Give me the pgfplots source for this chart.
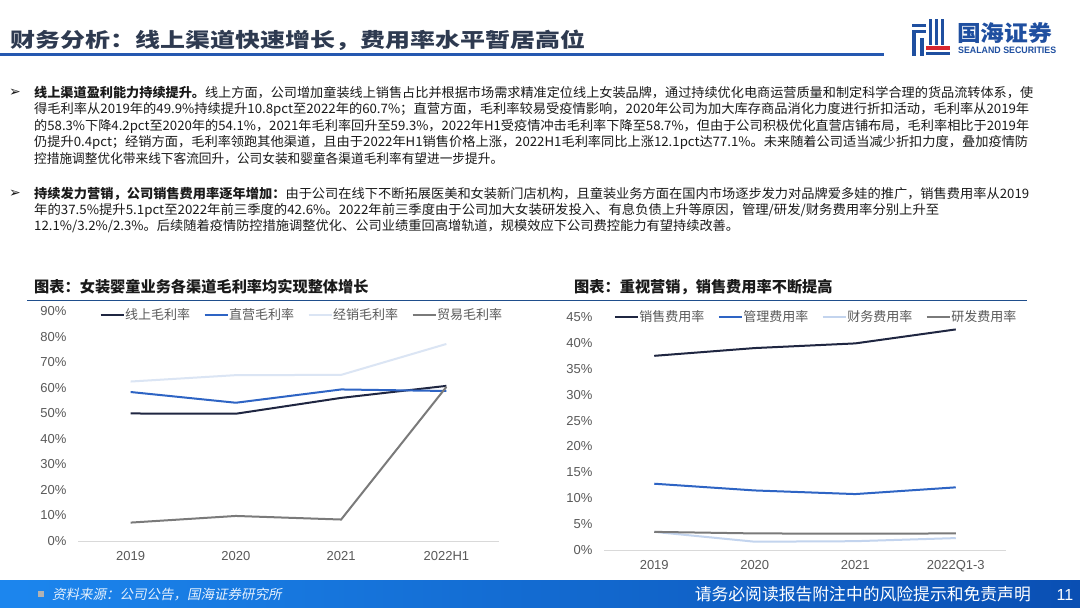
\documentclass[border=0pt]{standalone}
\usepackage{fontspec}
\usepackage{graphicx}
\usepackage{pgfplots}
\pgfplotsset{compat=1.18}
\setmainfont{Noto Sans CJK SC}
\newfontfamily\sym{DejaVu Sans}
\newfontfamily\latin{Liberation Sans}
\newfontfamily\cjkit[FakeSlant=0.2]{Noto Sans CJK SC}
\definecolor{titlecol}{HTML}{2E3A50}
\definecolor{rulecol}{HTML}{2558B0}
\definecolor{chartrule}{HTML}{1F4E8C}
\definecolor{bodycol}{HTML}{1A1A1A}
\definecolor{tickgray}{HTML}{595959}
\definecolor{axisgray}{HTML}{D9D9D9}
\definecolor{cnavy}{HTML}{1F2641}
\definecolor{cblue}{HTML}{2E64C4}
\definecolor{clightL}{HTML}{DBE5F4}
\definecolor{clightR}{HTML}{C3D4EE}
\definecolor{cgray}{HTML}{7A7A7A}
\definecolor{logoblue}{HTML}{1F4FA0}
\definecolor{logored}{HTML}{D7262E}
\definecolor{footL}{HTML}{1C86EE}
\definecolor{footR}{HTML}{0A4FB3}

\pgfplotstableread{
x online direct dealer trade
0 49.9 58.3 62.4 7.2
1 49.8 54.1 64.9 9.8
2 56.0 59.3 65.0 8.4
3 60.7 58.7 77.1 60.3
}\leftdata
\pgfplotstableread{
x sales admin fin rd
0 37.5 12.8 3.5 3.5
1 39.0 11.5 1.6 3.2
2 39.9 10.8 1.7 3.15
3 42.6 12.1 2.3 3.2
}\rightdata

\pgfplotsset{myaxis/.style={
  scale only axis,
  axis x line*=bottom, axis y line*=left,
  y axis line style={draw=none},
  x axis line style={draw=axisgray, line width=0.8pt, -},
  major tick length=0pt,
  xmin=-0.5, xmax=3.5, xtick={0,1,2,3}, ymin=0,
  tick label style={font=\latin\fontsize{13}{13}\selectfont, text=tickgray},
  xticklabel style={yshift=-7pt},
  yticklabel style={xshift=-8pt},
  every axis plot/.append style={line width=2pt, no marks},
  legend style={draw=none, fill=none, legend columns=4,
    font=\fontsize{13}{13}\selectfont, text=tickgray,
    nodes={inner sep=0.5pt},
    /tikz/every even column/.append style={column sep=13pt}},
  legend image code/.code={\draw[##1] (0pt,0pt) -- (23pt,0pt);},
  clip=false,
}}

\newcommand{\bline}[2]{\resizebox{#1pt}{\height}{#2}}

\begin{document}
\begin{tikzpicture}[x=1pt,y=1pt]
\useasboundingbox (0,0) rectangle (1080,608);
\fill[white] (0,0) rectangle (1080,608);

% Title
\node[anchor=west, inner sep=0, text=titlecol] at (10,568)
  {\scalebox{1.25}[1]{\fontsize{20}{20}\selectfont\bfseries 财务分析：线上渠道快速增长，费用率水平暂居高位}};
\draw[rulecol, line width=3pt] (0,553) -- (884,553);

% Logo icon
\fill[logoblue] (912,584) rectangle (926,581);
\fill[logoblue] (912,578) rectangle (926,575);
\fill[logoblue] (912,575) rectangle (916,552);
\fill[logoblue] (920,570) rectangle (924,552);
\fill[logoblue] (929,589) rectangle (932,563);
\fill[logoblue] (935,589) rectangle (938,563);
\fill[logoblue] (941,589) rectangle (944,563);
\fill[logored] (926,562) rectangle (950,558);
\fill[logoblue] (926,556) rectangle (950,553);
\node[anchor=west, inner sep=0, text=logoblue] at (957,575)
  {\scalebox{1.08}[1]{\fontsize{22}{22}\selectfont\bfseries 国海证券}};
\node[anchor=west, inner sep=0, text=logoblue] at (958,558)
  {\resizebox{98pt}{6.5pt}{\latin\bfseries SEALAND SECURITIES}};

% Bullets
\node[text=bodycol, inner sep=0] at (15,515) {\sym\fontsize{14}{14}\selectfont ➢};
\node[text=bodycol, inner sep=0] at (15,414.5) {\sym\fontsize{14}{14}\selectfont ➢};

% Body text
\begin{scope}[every node/.style={anchor=west, inner sep=0, text=bodycol, font=\fontsize{13}{16}\selectfont}]
\node at (34,515) {\bline{999}{\textbf{线上渠道盈利能力持续提升。}线上方面，公司增加童装线上销售占比并根据市场需求精准定位线上女装品牌，通过持续优化电商运营质量和制定科学合理的货品流转体系，使}};
\node at (34,498.5) {\bline{995}{得毛利率从2019年的49.9\%持续提升10.8pct至2022年的60.7\%；直营方面，毛利率较易受疫情影响，2020年公司为加大库存商品消化力度进行折扣活动，毛利率从2019年}};
\node at (34,482) {\bline{995}{的58.3\%下降4.2pct至2020年的54.1\%，2021年毛利率回升至59.3\%，2022年H1受疫情冲击毛利率下降至58.7\%，但由于公司积极优化直营店铺布局，毛利率相比于2019年}};
\node at (34,465.5) {\bline{994}{仍提升0.4pct；经销方面，毛利率领跑其他渠道，且由于2022年H1销售价格上涨，2022H1毛利率同比上涨12.1pct达77.1\%。未来随着公司适当减少折扣力度，叠加疫情防}};
\node at (34,449) {\bline{469}{控措施调整优化带来线下客流回升，公司女装和婴童各渠道毛利率有望进一步提升。}};
\node at (34,414.5) {\bline{995}{\textbf{持续发力营销，公司销售费用率逐年增加：}由于公司在线下不断拓展医美和女装新门店机构，且童装业务方面在国内市场逐步发力对品牌爱多娃的推广，销售费用率从2019}};
\node at (34,398) {\bline{905}{年的37.5\%提升5.1pct至2022年前三季度的42.6\%。2022年前三季度由于公司加大女装研发投入、有息负债上升等原因，管理/研发/财务费用率分别上升至}};
\node at (34,381.5) {\bline{705}{12.1\%/3.2\%/2.3\%。后续随着疫情防控措施调整优化、公司业绩重回高增轨道，规模效应下公司费控能力有望持续改善。}};
\end{scope}

% Chart titles
\node[anchor=west, inner sep=0, text=bodycol] at (34,321)
  {\fontsize{15.2}{15.2}\selectfont\bfseries 图表：女装婴童业务各渠道毛利率均实现整体增长};
\node[anchor=west, inner sep=0, text=bodycol] at (574,321)
  {\fontsize{15.2}{15.2}\selectfont\bfseries 图表：重视营销，销售费用率不断提高};
\draw[chartrule, line width=1.5pt] (27,307.3) -- (1027,307.3);

% Left chart
\begin{axis}[myaxis, at={(78pt,67pt)}, anchor=south west,
  width=421pt, height=230pt, ymax=90,
  ytick={0,10,...,90},
  yticklabels={0\%,10\%,20\%,30\%,40\%,50\%,60\%,70\%,80\%,90\%},
  xticklabels={2019,2020,2021,2022H1},
  legend style={at={(0.53,0.983)}, anchor=center}]
\addplot[cnavy] table[x=x,y=online] {\leftdata};
\addlegendentry{线上毛利率}
\addplot[cblue] table[x=x,y=direct] {\leftdata};
\addlegendentry{直营毛利率}
\addplot[clightL] table[x=x,y=dealer] {\leftdata};
\addlegendentry{经销毛利率}
\addplot[cgray] table[x=x,y=trade] {\leftdata};
\addlegendentry{贸易毛利率}
\end{axis}

% Right chart
\begin{axis}[myaxis, at={(604pt,58pt)}, anchor=south west,
  width=402pt, height=233pt, ymax=45,
  ytick={0,5,...,45},
  yticklabels={0\%,5\%,10\%,15\%,20\%,25\%,30\%,35\%,40\%,45\%},
  xticklabels={2019,2020,2021,2022Q1-3},
  legend style={at={(0.526,1.0)}, anchor=center}]
\addplot[cnavy] table[x=x,y=sales] {\rightdata};
\addlegendentry{销售费用率}
\addplot[cblue] table[x=x,y=admin] {\rightdata};
\addlegendentry{管理费用率}
\addplot[clightR] table[x=x,y=fin] {\rightdata};
\addlegendentry{财务费用率}
\addplot[cgray] table[x=x,y=rd] {\rightdata};
\addlegendentry{研发费用率}
\end{axis}

% Footer
\shade[left color=footL, right color=footR] (0,0) rectangle (1080,27);
\fill[gray!60] (38,11) rectangle (44,17);
\node[anchor=west, inner sep=0, text=white!88!footL] at (52,13.5)
  {\cjkit\fontsize{13.5}{13.5}\selectfont 资料来源：公司公告，国海证券研究所};
\node[anchor=east, inner sep=0, text=white] at (1031,13.5)
  {\fontsize{16.8}{16.8}\selectfont 请务必阅读报告附注中的风险提示和免责声明};
\node[inner sep=0, text=white] at (1065,13.5)
  {\latin\fontsize{16}{16}\selectfont 11};
\end{tikzpicture}
\end{document}
